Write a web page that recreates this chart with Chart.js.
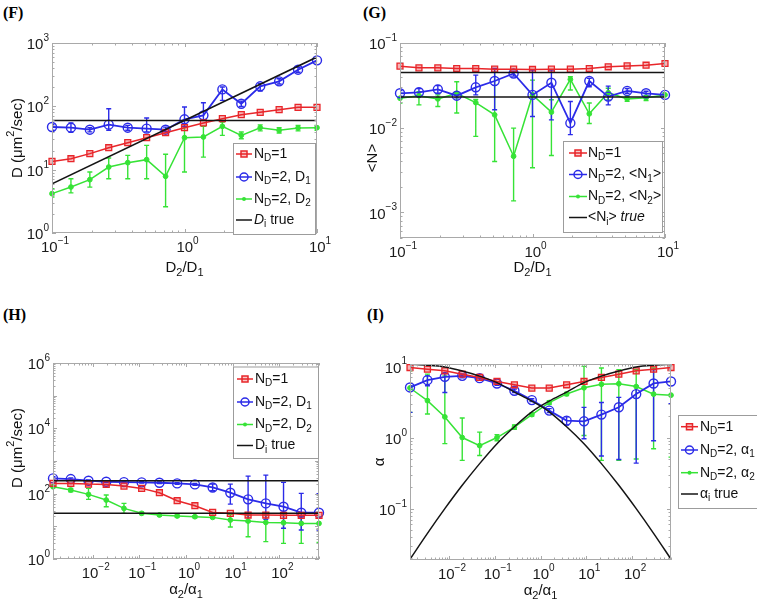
<!DOCTYPE html>
<html>
<head>
<meta charset="utf-8">
<script src="https://cdn.jsdelivr.net/npm/chart.js@4.4.1/dist/chart.umd.min.js"></script>
<style>
  body { margin: 0; background: #fff; width: 757px; height: 614px; position: relative; overflow: hidden; }
  canvas { position: absolute; }
  .tag { position: absolute; font: bold 16px 'Liberation Serif', 'Times New Roman', serif; color: #000; }
</style>
</head>
<body>
<div class="tag" style="left:3px;top:4px">(F)</div>
<div class="tag" style="left:363px;top:4px">(G)</div>
<div class="tag" style="left:3px;top:306px">(H)</div>
<div class="tag" style="left:367px;top:306px">(I)</div>
<canvas id="cF" width="378" height="300" style="left:0;top:0"></canvas>
<canvas id="cG" width="417" height="300" style="left:340px;top:0"></canvas>
<canvas id="cH" width="378" height="314" style="left:0;top:300px"></canvas>
<canvas id="cI" width="417" height="314" style="left:340px;top:300px"></canvas>
<script>
const FONT = "'Liberation Sans', Arial, Helvetica, sans-serif";
const RED = '#e8262a', BLUE = '#2b2be8', GREEN = '#36e336', BLACK = '#141414';

// x values: D2/D1 and alpha2/alpha1
const ratioD = [0.1, 0.139, 0.193, 0.268, 0.373, 0.518, 0.72, 1, 1.389, 1.931, 2.683, 3.728, 5.179, 7.197, 10];
const ratioA = [0.00141, 0.00339, 0.00813, 0.0195, 0.0468, 0.112, 0.269, 0.646, 1.55, 3.72, 8.91, 21.4, 51.3, 123, 295, 708];

// (F) D vs D2/D1
const fRed = [13.5, 14.9, 17.9, 22.2, 26.7, 32, 38.4, 46, 54.6, 63.8, 73.8, 80.4, 88.5, 96.4, 96.4];
const fBlue = [47.2, 46, 42.8, 51.4, 46, 44.4, 42.8, 62.4, 72.1, 185, 110, 207, 248, 379, 532];
const fBlueLo = [42, 39, 39.5, 42, 42, 39.5, 40, 48, 60, 124, 100, 175, 225, 345, 490];
const fBlueHi = [52, 54.6, 46, 91.8, 50, 65.5, 47, 97.6, 114, 202, 121, 228, 272, 415, 575];
const fGreen = [4.18, 5.32, 6.95, 11.0, 12.9, 14.4, 7.85, 32, 32.8, 48.3, 34.8, 46, 41.8, 45.5, 46];
const fGreenLo = [3.7, 4.3, 5.3, 7.2, 7.2, 7.2, 2.6, 9.2, 15.8, 34.8, 30.8, 41, 38, 41, 42];
const fGreenHi = [5.0, 7.2, 9.2, 15.3, 16.8, 24.2, 17.5, 48.3, 48.3, 56.6, 39.3, 51, 46, 50, 50];
const fTrueX = [0.1, 10];
const fTrueD1 = [60, 60];
const fTrueD2 = [6, 600];

// (G) <N> vs D2/D1
const gRed = [0.0533, 0.0509, 0.0509, 0.050, 0.050, 0.0491, 0.0491, 0.0487, 0.0491, 0.0491, 0.050, 0.0524, 0.0537, 0.0547, 0.0573];
const gBlue = [0.0255, 0.0262, 0.0284, 0.0239, 0.030, 0.0356, 0.0437, 0.0244, 0.034, 0.01135, 0.0356, 0.0233, 0.0272, 0.0255, 0.0244];
const gBlueLo = [0.0235, 0.024, 0.0255, 0.0225, 0.0244, 0.0163, 0.0407, 0.0136, 0.0124, 0.0083, 0.0305, 0.0186, 0.0255, 0.024, 0.0235];
const gBlueHi = [0.0275, 0.029, 0.0315, 0.026, 0.0418, 0.050, 0.0466, 0.0478, 0.0478, 0.0204, 0.0382, 0.031, 0.029, 0.027, 0.0255];
const gGreen = [0.0223, 0.0239, 0.0219, 0.0255, 0.0198, 0.0142, 0.00461, 0.0244, 0.0153, 0.0372, 0.0146, 0.0259, 0.0219, 0.0226, 0.0244];
const gGreenLo = [0.0195, 0.0186, 0.0178, 0.0149, 0.0079, 0.0040, 0.00137, 0.00337, 0.0047, 0.0279, 0.0112, 0.0213, 0.0205, 0.021, 0.023];
const gGreenHi = [0.0255, 0.0267, 0.0244, 0.0349, 0.0215, 0.045, 0.0099, 0.0365, 0.0214, 0.040, 0.0196, 0.0292, 0.0235, 0.024, 0.0258];
const gTrueX = [0.1, 10];
const gTrueN1 = [0.045, 0.045];
const gTrueN2 = [0.023, 0.023];

// (H) D vs alpha2/alpha1
const hRed = [206, 206, 196, 192, 171, 145, 107, 60.8, 42.8, 26.7, 25, 22.2, 22.2, 21.7, 21.7, 21.7];
const hBlue = [293, 280, 249, 232, 226, 221, 216, 206, 192, 155, 107, 66.9, 50.4, 39.9, 26.1, 26.1];
const hBlueLo = [260, 255, 235, 220, 215, 210, 205, 195, 180, 123, 48, 13.8, 16.3, 8.7, 7.7, 7.7];
const hBlueHi = [330, 305, 265, 245, 238, 232, 228, 218, 205, 196, 196, 345, 370, 221, 102, 99];
const hGreen = [163, 129, 95, 63.7, 35.4, 25, 22.2, 20.7, 19.7, 18.8, 15.6, 14.5, 13.2, 12.9, 12.3, 12.3];
const hGreenLo = [150, 114, 66.9, 39.9, 25, 23, 20.5, 19.3, 18.3, 17.5, 9.5, 4.8, 3.4, 3.0, 3.0, 3.2];
const hGreenHi = [178, 145, 145, 90.6, 50.4, 27, 24, 22.2, 21.2, 20.2, 23.2, 22.2, 22.2, 22.2, 20.7, 20.7];
const hTrueX = [0.00141, 708];
const hTrueD1 = [250, 250];
const hTrueD2 = [25, 25];

// (I) alpha vs alpha2/alpha1
const iRed = [9.64, 9.12, 8.65, 7.77, 6.98, 6.14, 5.51, 4.95, 4.95, 5.51, 6.14, 6.98, 7.77, 8.65, 9.12, 9.64];
const iBlue = [5.06, 6.40, 7.13, 7.36, 6.83, 5.75, 4.54, 3.36, 2.39, 1.73, 1.69, 2.10, 2.66, 4.08, 5.75, 6.14];
const iBlueLo = [2.26, 5.34, 4.3, 6.9, 6.4, 5.4, 4.3, 3.2, 2.25, 1.5, 0.96, 0.55, 0.49, 0.437, 0.9, 3.0];
const iBlueHi = [5.34, 7.36, 7.9, 7.8, 7.2, 6.1, 4.8, 3.5, 2.55, 1.95, 2.65, 3.1, 3.67, 5.3, 9.0, 9.6];
const iGreen = [4.97, 3.3, 1.95, 1.0, 0.77, 1.0, 1.4, 2.1, 3.1, 4.1, 5.0, 5.6, 5.7, 5.2, 4.07, 3.94];
const iGreenLo = [2.26, 2.14, 0.82, 0.477, 0.56, 0.9, 1.3, 2.0, 2.9, 3.9, 1.07, 0.477, 0.48, 0.5, 0.695, 0.53];
const iGreenHi = [8.65, 7.78, 7.36, 1.88, 1.19, 1.1, 1.5, 2.2, 3.3, 4.3, 10.0, 9.5, 9.0, 9.0, 9.5, 10];
const iTrueA1 = [10.7, 10.4, 9.8, 8.6, 7.3, 5.9, 4.35, 3.25, 2.3, 1.42, 0.82, 0.43, 0.213, 0.1, 0.045, 0.0195];
const iTrueA2 = [0.0195, 0.045, 0.1, 0.213, 0.43, 0.82, 1.42, 2.3, 3.25, 4.35, 5.9, 7.3, 8.6, 9.8, 10.4, 10.7];

function pts(xs, ys) { return xs.map((x, i) => ({ x: x, y: ys[i] })); }

function series(xs, ys, kind) {
  const d = { data: pts(xs, ys), fill: false, tension: 0, clip: 6, order: 1, borderWidth: 1.5 };
  if (kind === 'red') Object.assign(d, { borderColor: RED, pointStyle: 'rect', pointRadius: 4.2, pointBorderWidth: 1.3, pointBorderColor: RED, pointBackgroundColor: 'rgba(232,38,42,0.35)' });
  if (kind === 'blue') Object.assign(d, { borderColor: BLUE, borderWidth: 1.8, pointStyle: 'circle', pointRadius: 4.5, pointBorderWidth: 1.4, pointBorderColor: BLUE, pointBackgroundColor: 'rgba(0,0,0,0)' });
  if (kind === 'green') Object.assign(d, { borderColor: GREEN, pointStyle: 'circle', pointRadius: 2.4, pointBorderWidth: 1, pointBorderColor: GREEN, pointBackgroundColor: GREEN });
  if (kind === 'black') Object.assign(d, { borderColor: BLACK, pointRadius: 0, order: 0, clip: 0 });
  if (kind === 'curve') Object.assign(d, { borderColor: BLACK, pointRadius: 0, order: 0, clip: 0, cubicInterpolationMode: 'monotone' });
  return d;
}

// text with sub/superscripts: parts = [[text, ''|'sub'|'sup'|'i'], ...]
function drawRich(ctx, parts, x, y, size, align, small) {
  const sm = small || Math.round(size * 0.72);
  const fnt = k => (k === 'i' ? 'italic ' : '') + (k === 'sub' || k === 'sup' ? sm : size) + 'px ' + FONT;
  let w = 0;
  parts.forEach(p => { ctx.font = fnt(p[1]); w += ctx.measureText(p[0]).width; });
  let cx = align === 'center' ? x - w / 2 : align === 'right' ? x - w : x;
  ctx.textBaseline = 'middle';
  ctx.textAlign = 'left';
  parts.forEach(p => {
    ctx.font = fnt(p[1]);
    const dy = p[1] === 'sub' ? size * 0.32 : p[1] === 'sup' ? -size * 0.45 : 0;
    ctx.fillText(p[0], cx, y + dy);
    cx += ctx.measureText(p[0]).width;
  });
}

function powParts(v) {
  return [['10', ''], [String(Math.round(Math.log10(v))).replace('-', '\u2212'), 'sup']];
}

function drawMarker(ctx, kind, x, y) {
  ctx.beginPath();
  if (kind === 'red') { ctx.rect(x - 3, y - 3, 6, 6); ctx.fillStyle = 'rgba(232,38,42,0.25)'; ctx.fill(); ctx.stroke(); }
  if (kind === 'blue') { ctx.arc(x, y, 4, 0, Math.PI * 2); ctx.stroke(); }
  if (kind === 'green') { ctx.arc(x, y, 2, 0, Math.PI * 2); ctx.fillStyle = GREEN; ctx.fill(); }
}

function errPlugin(sets) {
  return {
    id: 'errbars',
    beforeDatasetsDraw(chart) {
      const { ctx, chartArea: a, scales: { x, y } } = chart;
      ctx.save();
      ctx.beginPath();
      ctx.rect(a.left, a.top, a.right - a.left, a.bottom - a.top);
      ctx.clip();
      sets.forEach(s => {
        ctx.strokeStyle = s.color;
        ctx.lineWidth = 1.4;
        ctx.beginPath();
        s.x.forEach((xv, i) => {
          const px = x.getPixelForValue(xv);
          const p0 = y.getPixelForValue(s.lo[i]), p1 = y.getPixelForValue(s.hi[i]);
          ctx.moveTo(px, p0); ctx.lineTo(px, p1);
          ctx.moveTo(px - 2.5, p0); ctx.lineTo(px + 2.5, p0);
          ctx.moveTo(px - 2.5, p1); ctx.lineTo(px + 2.5, p1);
        });
        ctx.stroke();
      });
      ctx.restore();
    }
  };
}

function logMarks(min, max) {
  const out = [];
  for (let e = Math.floor(Math.log10(min)); e <= Math.ceil(Math.log10(max)); e++) {
    for (let k = 1; k < 10; k++) {
      const v = k * Math.pow(10, e);
      if (v >= min * 0.999 && v <= max * 1.001) out.push([v, k === 1]);
    }
  }
  return out;
}

// axes box, inward tick marks and tick labels (10^n)
const framePlugin = {
  id: 'frame',
  afterDatasetsDraw(chart) {
    const { ctx, chartArea: a, scales: { x, y } } = chart;
    ctx.save();
    ctx.strokeStyle = '#a9a9a9';
    ctx.lineWidth = 1;
    ctx.strokeRect(a.left + 0.5, a.top + 0.5, a.right - a.left - 1, a.bottom - a.top - 1);
    ctx.beginPath();
    logMarks(x.min, x.max).forEach(([v, major]) => {
      const p = Math.round(x.getPixelForValue(v)) + 0.5, len = major ? 4 : 2.5;
      ctx.moveTo(p, a.bottom); ctx.lineTo(p, a.bottom - len);
      ctx.moveTo(p, a.top); ctx.lineTo(p, a.top + len);
    });
    logMarks(y.min, y.max).forEach(([v, major]) => {
      const p = Math.round(y.getPixelForValue(v)) + 0.5, len = major ? 4 : 2.5;
      ctx.moveTo(a.left, p); ctx.lineTo(a.left + len, p);
      ctx.moveTo(a.right, p); ctx.lineTo(a.right - len, p);
    });
    ctx.stroke();
    ctx.fillStyle = '#1a1a1a';
    x.ticks.forEach(t => drawRich(ctx, powParts(t.value), x.getPixelForValue(t.value) + 3, a.bottom + 15, 15, 'center', 10));
    y.ticks.forEach(t => drawRich(ctx, powParts(t.value), a.left - 3, y.getPixelForValue(t.value) + 2, 15, 'right', 10));
    ctx.restore();
  }
};

function legendPlugin(L) {
  return {
    id: 'lgd',
    afterDraw(chart) {
      const ctx = chart.ctx;
      ctx.save();
      ctx.fillStyle = '#fff';
      ctx.fillRect(L.x, L.y, L.w, L.h);
      ctx.strokeStyle = '#9c9c9c';
      ctx.lineWidth = 1;
      ctx.strokeRect(L.x + 0.5, L.y + 0.5, L.w, L.h);
      L.rows.forEach((r, i) => {
        const yy = L.rowY[i];
        ctx.strokeStyle = r.color;
        ctx.lineWidth = 1.5;
        ctx.beginPath(); ctx.moveTo(L.x0, yy); ctx.lineTo(L.x1, yy); ctx.stroke();
        drawMarker(ctx, r.kind, (L.x0 + L.x1) / 2, yy);
        ctx.fillStyle = '#111';
        drawRich(ctx, r.parts, L.tx, yy, 14, 'left');
      });
      ctx.restore();
    }
  };
}

function textPlugin(items) {
  return {
    id: 'txt',
    afterDraw(chart) {
      const ctx = chart.ctx;
      items.forEach(t => {
        ctx.save();
        ctx.translate(t.x, t.y);
        if (t.rot) ctx.rotate(-Math.PI / 2);
        ctx.fillStyle = '#111';
        drawRich(ctx, t.parts, 0, 0, 15, 'center');
        ctx.restore();
      });
    }
  };
}

function logAxis(a, dir) {
  return {
    type: 'logarithmic',
    min: a.min,
    max: a.max,
    grid: { display: false },
    border: { display: false },
    ticks: { display: false },
    afterBuildTicks: s => { s.ticks = a.ticks.map(v => ({ value: v })); },
    afterFit: s => {
      if (dir === 'x') s.height = a.size; else s.width = a.size;
      s.paddingLeft = s.paddingRight = s.paddingTop = s.paddingBottom = 0;
    }
  };
}

function makePanel(id, cfg) {
  return new Chart(document.getElementById(id), {
    type: 'line',
    data: { datasets: cfg.datasets },
    options: {
      responsive: false,
      animation: false,
      devicePixelRatio: 1,
      layout: { padding: cfg.pad },
      plugins: { legend: { display: false }, tooltip: { enabled: false } },
      scales: { x: logAxis(cfg.x, 'x'), y: logAxis(cfg.y, 'y') }
    },
    plugins: [errPlugin(cfg.err), framePlugin, legendPlugin(cfg.legend), textPlugin(cfg.texts)]
  });
}

const ND = [['N', ''], ['D', 'sub']];

makePanel('cF', {
  pad: { left: 0, right: 61, top: 43, bottom: 0 },
  x: { min: 0.1, max: 10, ticks: [0.1, 1, 10], size: 67 },
  y: { min: 1, max: 1000, ticks: [1, 10, 100, 1000], size: 52 },
  datasets: [
    series(fTrueX, fTrueD1, 'black'),
    series(fTrueX, fTrueD2, 'black'),
    series(ratioD, fRed, 'red'),
    series(ratioD, fBlue, 'blue'),
    series(ratioD, fGreen, 'green')
  ],
  err: [
    { x: ratioD, lo: fGreenLo, hi: fGreenHi, color: GREEN },
    { x: ratioD, lo: fBlueLo, hi: fBlueHi, color: BLUE }
  ],
  legend: {
    x: 233, y: 143, w: 82, h: 91, x0: 236, x1: 252, tx: 254, rowY: [154, 177, 199, 220],
    rows: [
      { color: RED, kind: 'red', parts: ND.concat([['=1', '']]) },
      { color: BLUE, kind: 'blue', parts: ND.concat([['=2, D', ''], ['1', 'sub']]) },
      { color: GREEN, kind: 'green', parts: ND.concat([['=2, D', ''], ['2', 'sub']]) },
      { color: BLACK, kind: '', parts: [['D', 'i'], ['i', 'sub'], [' true', '']] }
    ]
  },
  texts: [
    { x: 18, y: 138, rot: true, parts: [['D (\u03BCm', ''], ['2', 'sup'], ['/sec)', '']] },
    { x: 184.5, y: 268, parts: [['D', ''], ['2', 'sub'], ['/D', ''], ['1', 'sub']] }
  ]
});

makePanel('cG', {
  pad: { left: 0, right: 92, top: 43, bottom: 0 },
  x: { min: 0.1, max: 10, ticks: [0.1, 1, 10], size: 62 },
  y: { min: 0.0005, max: 0.1, ticks: [0.001, 0.01, 0.1], size: 60 },
  datasets: [
    series(gTrueX, gTrueN1, 'black'),
    series(gTrueX, gTrueN2, 'black'),
    series(ratioD, gRed, 'red'),
    series(ratioD, gBlue, 'blue'),
    series(ratioD, gGreen, 'green')
  ],
  err: [
    { x: ratioD, lo: gGreenLo, hi: gGreenHi, color: GREEN },
    { x: ratioD, lo: gBlueLo, hi: gBlueHi, color: BLUE }
  ],
  legend: {
    x: 223, y: 141, w: 99, h: 91, x0: 229, x1: 247, tx: 248, rowY: [153, 174.5, 196.5, 217.5],
    rows: [
      { color: RED, kind: 'red', parts: ND.concat([['=1', '']]) },
      { color: BLUE, kind: 'blue', parts: ND.concat([['=2, <N', ''], ['1', 'sub'], ['>', '']]) },
      { color: GREEN, kind: 'green', parts: ND.concat([['=2, <N', ''], ['2', 'sub'], ['>', '']]) },
      { color: BLACK, kind: '', parts: [['<N', ''], ['i', 'sub'], ['> ', ''], ['true', 'i']] }
    ]
  },
  texts: [
    { x: 33, y: 158, rot: true, parts: [['<N>', '']] },
    { x: 192.5, y: 268, parts: [['D', ''], ['2', 'sub'], ['/D', ''], ['1', 'sub']] }
  ]
});

makePanel('cH', {
  pad: { left: 0, right: 59, top: 63, bottom: 0 },
  x: { min: 0.00141, max: 708, ticks: [0.01, 0.1, 1, 10, 100], size: 55 },
  y: { min: 1, max: 1e6, ticks: [1, 100, 1e4, 1e6], size: 53 },
  datasets: [
    series(hTrueX, hTrueD1, 'black'),
    series(hTrueX, hTrueD2, 'black'),
    series(ratioA, hRed, 'red'),
    series(ratioA, hBlue, 'blue'),
    series(ratioA, hGreen, 'green')
  ],
  err: [
    { x: ratioA, lo: hGreenLo, hi: hGreenHi, color: GREEN },
    { x: ratioA, lo: hBlueLo, hi: hBlueHi, color: BLUE }
  ],
  legend: {
    x: 233, y: 66.5, w: 85, h: 91.5, x0: 237, x1: 253, tx: 255, rowY: [79, 102, 124.5, 145.5],
    rows: [
      { color: RED, kind: 'red', parts: ND.concat([['=1', '']]) },
      { color: BLUE, kind: 'blue', parts: ND.concat([['=2, D', ''], ['1', 'sub']]) },
      { color: GREEN, kind: 'green', parts: ND.concat([['=2, D', ''], ['2', 'sub']]) },
      { color: BLACK, kind: '', parts: [['D', ''], ['i', 'sub'], [' true', '']] }
    ]
  },
  texts: [
    { x: 18, y: 148, rot: true, parts: [['D (\u03BCm', ''], ['2', 'sup'], ['/sec)', '']] },
    { x: 186, y: 290, parts: [['\u03B1', ''], ['2', 'sub'], ['/\u03B1', ''], ['1', 'sub']] }
  ]
});

makePanel('cI', {
  pad: { left: 0, right: 86, top: 64, bottom: 0 },
  x: { min: 0.00141, max: 708, ticks: [0.01, 0.1, 1, 10, 100], size: 54 },
  y: { min: 0.019, max: 10.8, ticks: [0.1, 1, 10], size: 70 },
  datasets: [
    series(ratioA, iTrueA1, 'curve'),
    series(ratioA, iTrueA2, 'curve'),
    series(ratioA, iRed, 'red'),
    series(ratioA, iBlue, 'blue'),
    series(ratioA, iGreen, 'green')
  ],
  err: [
    { x: ratioA, lo: iGreenLo, hi: iGreenHi, color: GREEN },
    { x: ratioA, lo: iBlueLo, hi: iBlueHi, color: BLUE }
  ],
  legend: {
    x: 338, y: 115, w: 90, h: 93, x0: 341, x1: 358, tx: 360, rowY: [126.7, 150, 172.7, 194],
    rows: [
      { color: RED, kind: 'red', parts: ND.concat([['=1', '']]) },
      { color: BLUE, kind: 'blue', parts: ND.concat([['=2, \u03B1', ''], ['1', 'sub']]) },
      { color: GREEN, kind: 'green', parts: ND.concat([['=2, \u03B1', ''], ['2', 'sub']]) },
      { color: BLACK, kind: '', parts: [['\u03B1', ''], ['i', 'sub'], [' true', '']] }
    ]
  },
  texts: [
    { x: 40, y: 162, rot: true, parts: [['\u03B1', '']] },
    { x: 200.5, y: 291, parts: [['\u03B1', ''], ['2', 'sub'], ['/\u03B1', ''], ['1', 'sub']] }
  ]
});
</script>
</body>
</html>
